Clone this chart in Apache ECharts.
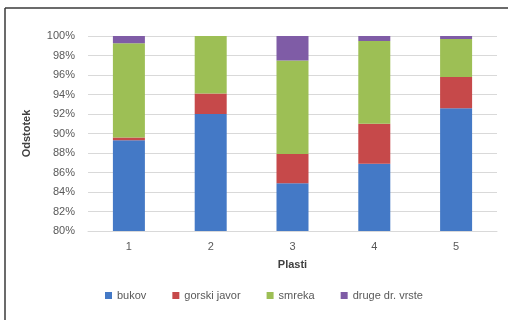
<!DOCTYPE html>
<html>
<head>
<meta charset="utf-8">
<style>
  html, body { margin: 0; padding: 0; background: #fff; }
  #chart { width: 508px; height: 320px; }
</style>
<script src="https://cdn.jsdelivr.net/npm/echarts@6/dist/echarts.min.js"></script>
</head>
<body>
<div id="chart"></div>
<script>
// Share of tree species per layer (percent)
const categories = ['1', '2', '3', '4', '5'];
const bukov = [89.3, 92.0, 84.9, 86.9, 92.6];
const gorskiJavor = [0.3, 2.1, 3.0, 4.1, 3.2];
const smreka = [9.65, 5.9, 9.6, 8.5, 3.9];
const drugeVrste = [0.75, 0.0, 2.5, 0.5, 0.3];
const yTicks = { min: 80, max: 100, interval: 2 };

const seriesNames = ['bukov', 'gorski javor', 'smreka', 'druge dr. vrste'];
const seriesData = [bukov, gorskiJavor, smreka, drugeVrste];
const colors = ['#4479C6', '#C6494A', '#9DBF55', '#7F5CA6'];

const font = 'Liberation Sans, Arial, sans-serif';
const chart = echarts.init(document.getElementById('chart'), null, { renderer: 'canvas' });

chart.setOption({
  animation: false,
  color: colors,
  textStyle: { fontFamily: font },
  grid: { left: 88, right: 11, top: 36, bottom: 89 },
  graphic: [
    { type: 'line', shape: { x1: 5, y1: 8, x2: 508, y2: 8 }, style: { stroke: '#3a3a3a', lineWidth: 1.5 } },
    { type: 'line', shape: { x1: 5, y1: 8, x2: 5, y2: 320 }, style: { stroke: '#3a3a3a', lineWidth: 1.5 } }
  ],
  legend: {
    bottom: 14,
    left: 100,
    itemWidth: 7,
    itemHeight: 7,
    itemGap: 26,
    icon: 'rect',
    textStyle: { color: '#595959', fontSize: 11, fontFamily: font },
    data: seriesNames
  },
  xAxis: {
    type: 'category',
    data: categories,
    name: 'Plasti',
    nameLocation: 'middle',
    nameGap: 28,
    nameTextStyle: { color: '#404040', fontWeight: 'bold', fontSize: 11, fontFamily: font },
    axisLine: { show: true, lineStyle: { color: '#D9D9D9' } },
    axisTick: { show: false },
    axisLabel: { color: '#595959', fontSize: 11, margin: 10 }
  },
  yAxis: {
    type: 'value',
    min: yTicks.min,
    max: yTicks.max,
    interval: yTicks.interval,
    name: 'Odstotek',
    nameLocation: 'middle',
    nameGap: 56,
    nameTextStyle: { color: '#404040', fontWeight: 'bold', fontSize: 11, fontFamily: font },
    axisLine: { show: false },
    axisTick: { show: false },
    axisLabel: { color: '#595959', fontSize: 11, margin: 13, formatter: '{value}%' },
    splitLine: { lineStyle: { color: '#D9D9D9' } }
  },
  series: seriesNames.map((name, i) => ({
    name: name,
    type: 'bar',
    stack: 'total',
    barWidth: 32,
    clip: true,
    data: seriesData[i]
  }))
});
</script>
</body>
</html>
